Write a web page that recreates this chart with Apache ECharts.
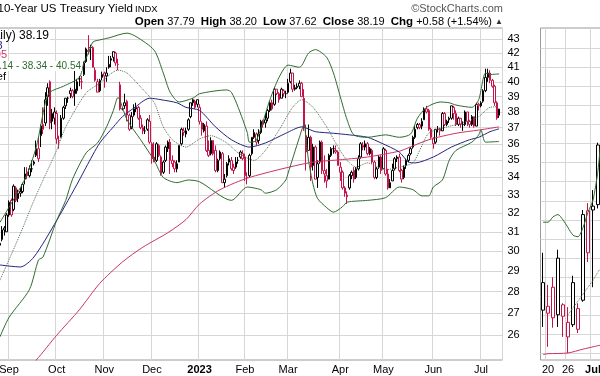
<!DOCTYPE html>
<html>
<head>
<meta charset="utf-8">
<title>10-Year US Treasury Yield</title>
<script src="https://cdn.jsdelivr.net/npm/echarts@6/dist/echarts.min.js"></script>
<style>
  html, body { margin: 0; padding: 0; background: #fff; }
  #chart { width: 600px; height: 376px; }
</style>
</head>
<body>
<div id="chart"></div>
<script>
// ---- daily $TNX (yield x10), main panel ----
const dates = [
  '2022-08-26','2022-08-29','2022-08-30','2022-08-31',
  '2022-09-01','2022-09-02','2022-09-06','2022-09-07','2022-09-08','2022-09-09','2022-09-12','2022-09-13','2022-09-14','2022-09-15','2022-09-16','2022-09-19','2022-09-20','2022-09-21','2022-09-22','2022-09-23','2022-09-26','2022-09-27','2022-09-28','2022-09-29','2022-09-30',
  '2022-10-03','2022-10-04','2022-10-05','2022-10-06','2022-10-07','2022-10-10','2022-10-11','2022-10-12','2022-10-13','2022-10-14','2022-10-17','2022-10-18','2022-10-19','2022-10-20','2022-10-21','2022-10-24','2022-10-25','2022-10-26','2022-10-27','2022-10-28','2022-10-31',
  '2022-11-01','2022-11-02','2022-11-03','2022-11-04','2022-11-07','2022-11-08','2022-11-09','2022-11-10','2022-11-11','2022-11-14','2022-11-15','2022-11-16','2022-11-17','2022-11-18','2022-11-21','2022-11-22','2022-11-23','2022-11-25','2022-11-28','2022-11-29','2022-11-30',
  '2022-12-01','2022-12-02','2022-12-05','2022-12-06','2022-12-07','2022-12-08','2022-12-09','2022-12-12','2022-12-13','2022-12-14','2022-12-15','2022-12-16','2022-12-19','2022-12-20','2022-12-21','2022-12-22','2022-12-23','2022-12-27','2022-12-28','2022-12-29','2022-12-30',
  '2023-01-03','2023-01-04','2023-01-05','2023-01-06','2023-01-09','2023-01-10','2023-01-11','2023-01-12','2023-01-13','2023-01-17','2023-01-18','2023-01-19','2023-01-20','2023-01-23','2023-01-24','2023-01-25','2023-01-26','2023-01-27','2023-01-30','2023-01-31',
  '2023-02-01','2023-02-02','2023-02-03','2023-02-06','2023-02-07','2023-02-08','2023-02-09','2023-02-10','2023-02-13','2023-02-14','2023-02-15','2023-02-16','2023-02-17','2023-02-21','2023-02-22','2023-02-23','2023-02-24','2023-02-27','2023-02-28',
  '2023-03-01','2023-03-02','2023-03-03','2023-03-06','2023-03-07','2023-03-08','2023-03-09','2023-03-10','2023-03-13','2023-03-14','2023-03-15','2023-03-16','2023-03-17','2023-03-20','2023-03-21','2023-03-22','2023-03-23','2023-03-24','2023-03-27','2023-03-28','2023-03-29','2023-03-30','2023-03-31',
  '2023-04-03','2023-04-04','2023-04-05','2023-04-06','2023-04-10','2023-04-11','2023-04-12','2023-04-13','2023-04-14','2023-04-17','2023-04-18','2023-04-19','2023-04-20','2023-04-21','2023-04-24','2023-04-25','2023-04-26','2023-04-27','2023-04-28',
  '2023-05-01','2023-05-02','2023-05-03','2023-05-04','2023-05-05','2023-05-08','2023-05-09','2023-05-10','2023-05-11','2023-05-12','2023-05-15','2023-05-16','2023-05-17','2023-05-18','2023-05-19','2023-05-22','2023-05-23','2023-05-24','2023-05-25','2023-05-26','2023-05-30','2023-05-31',
  '2023-06-01','2023-06-02','2023-06-05','2023-06-06','2023-06-07','2023-06-08','2023-06-09','2023-06-12','2023-06-13','2023-06-14','2023-06-15','2023-06-16','2023-06-20','2023-06-21','2023-06-22','2023-06-23','2023-06-26','2023-06-27','2023-06-28','2023-06-29','2023-06-30',
  '2023-07-03','2023-07-05','2023-07-06','2023-07-07','2023-07-10','2023-07-11','2023-07-12','2023-07-13','2023-07-14'
];
const open = [
  30.3, 30.6, 31.2, 31.0,
  31.9, 32.7, 32.2, 33.4, 32.8, 33.1, 33.2, 33.9, 34.3, 34.1, 34.5, 34.8, 35.3, 35.7, 36.5, 37.2, 37.3, 39.0, 40.0, 37.4, 37.6,
  37.9, 36.2, 36.4, 37.6, 38.4, 38.9, 39.2, 39.4, 39.2, 39.4, 40.2, 40.0, 40.5, 41.4, 42.2, 42.4, 42.4, 40.8, 40.0, 39.4, 40.3,
  40.6, 40.4, 41.0, 41.5, 41.7, 42.0, 41.2, 39.8, 38.2, 38.4, 38.7, 37.8, 37.0, 37.8, 38.2, 38.3, 37.6, 37.0, 36.8, 36.9, 37.4,
  36.0, 35.2, 35.0, 35.9, 35.2, 34.3, 35.0, 35.7, 36.1, 35.0, 34.9, 34.5, 34.9, 36.0, 36.8, 36.6, 36.9, 37.7, 38.6, 38.7, 38.5,
  38.3, 37.3, 36.8, 37.1, 35.6, 35.4, 36.2, 35.6, 34.4, 35.1, 35.4, 33.7, 34.1, 34.9, 35.0, 34.6, 34.6, 35.0, 35.2, 35.4,
  35.2, 34.0, 34.1, 35.4, 36.4, 36.6, 36.2, 36.7, 37.4, 37.3, 37.6, 38.1, 38.6, 38.5, 39.5, 39.2, 38.9, 39.4, 39.2,
  39.3, 40.0, 40.6, 39.5, 39.6, 39.7, 39.9, 38.9, 36.5, 35.6, 36.4, 34.7, 35.8, 34.0, 34.9, 36.1, 34.4, 34.1, 33.9, 35.3, 35.7, 35.6, 35.5,
  34.6, 34.3, 33.4, 33.0, 33.4, 34.1, 34.4, 34.0, 34.5, 35.2, 35.9, 35.8, 36.0, 35.4, 35.6, 34.9, 34.0, 34.6, 35.2,
  34.5, 35.6, 34.2, 33.4, 33.8, 34.5, 35.1, 35.2, 34.4, 34.0, 34.7, 35.0, 35.4, 35.8, 36.4, 37.0, 37.2, 37.1, 37.5, 38.2, 38.1, 36.9,
  36.3, 36.1, 36.9, 36.9, 36.8, 37.9, 37.2, 37.5, 37.6, 38.3, 37.9, 37.2, 37.6, 37.2, 37.2, 38.0, 37.4, 37.2, 37.7, 37.1, 38.5,
  38.4, 38.7, 39.4, 40.3, 40.6, 40.1, 39.7, 38.6, 37.79
];
const high = [
  30.9, 31.3, 31.3, 32.0,
  32.7, 32.8, 33.6, 33.5, 33.3, 33.4, 33.7, 34.6, 34.6, 34.7, 35.0, 35.0, 36.2, 36.4, 37.2, 38.3, 39.3, 39.9, 40.1, 38.2, 38.3,
  38.1, 36.5, 37.8, 38.4, 38.9, 39.0, 39.6, 39.5, 40.8, 40.2, 40.4, 40.4, 41.4, 42.4, 43.3, 42.6, 42.5, 41.0, 40.2, 40.2, 40.7,
  40.7, 41.0, 41.8, 41.8, 42.1, 42.1, 41.6, 40.0, 38.3, 39.2, 38.8, 37.9, 38.0, 38.5, 38.6, 38.4, 37.8, 37.2, 37.1, 37.6, 37.8,
  36.1, 36.1, 36.1, 36.0, 35.3, 35.0, 35.9, 36.2, 36.3, 35.3, 35.0, 35.0, 35.9, 37.0, 37.0, 37.0, 37.6, 38.6, 38.9, 38.8, 38.8,
  38.5, 37.4, 37.3, 37.4, 36.2, 36.4, 36.2, 35.9, 35.1, 35.6, 35.5, 34.2, 34.9, 35.3, 35.2, 34.8, 35.2, 35.2, 35.6, 35.6,
  35.4, 34.3, 35.4, 36.4, 36.9, 36.7, 36.9, 37.5, 37.5, 37.9, 38.2, 38.7, 38.8, 39.6, 39.5, 39.3, 39.6, 39.5, 39.4,
  40.2, 40.9, 40.6, 39.8, 39.9, 40.1, 40.0, 39.5, 37.2, 37.2, 36.5, 36.0, 35.9, 35.0, 36.2, 36.2, 35.3, 34.5, 35.4, 35.8, 35.9, 35.9, 35.6,
  34.9, 34.4, 33.5, 33.2, 34.2, 34.4, 34.6, 34.6, 35.3, 36.1, 36.1, 36.2, 36.1, 35.8, 35.7, 35.0, 34.6, 35.3, 35.3,
  35.8, 35.7, 34.5, 33.9, 34.8, 35.2, 35.3, 35.4, 34.5, 34.7, 35.1, 35.4, 35.8, 36.5, 37.1, 37.3, 37.3, 37.6, 38.3, 38.4, 38.2, 37.0,
  36.4, 36.9, 37.1, 37.0, 38.0, 38.0, 37.5, 37.7, 38.4, 38.4, 38.1, 37.7, 37.6, 37.4, 38.1, 38.0, 37.5, 37.8, 37.7, 38.6, 38.6,
  38.7, 39.5, 40.9, 40.9, 40.8, 40.2, 39.8, 38.7, 38.20
];
const low = [
  30.0, 30.5, 30.8, 31.0,
  31.8, 31.8, 32.1, 32.6, 32.6, 32.9, 33.1, 33.6, 33.9, 34.0, 34.3, 34.7, 35.2, 34.9, 35.8, 36.6, 37.1, 38.4, 36.9, 36.9, 37.2,
  36.0, 35.7, 36.4, 37.5, 38.2, 38.6, 38.9, 38.9, 38.4, 39.2, 39.7, 39.5, 40.4, 41.3, 41.9, 41.5, 41.0, 40.0, 39.3, 39.3, 40.1,
  39.6, 40.0, 40.9, 41.0, 41.4, 41.1, 40.8, 38.1, 38.1, 38.2, 37.4, 36.8, 36.9, 37.7, 38.0, 37.5, 36.9, 36.6, 36.6, 36.8, 36.0,
  34.8, 34.9, 34.9, 35.2, 34.1, 34.2, 34.9, 35.5, 34.2, 34.6, 34.3, 34.3, 34.9, 35.9, 36.5, 36.4, 36.8, 37.6, 38.4, 38.2, 38.3,
  37.2, 36.5, 36.7, 35.5, 35.2, 35.3, 35.3, 34.3, 34.3, 35.0, 33.7, 33.4, 34.0, 34.7, 34.4, 34.2, 34.5, 34.8, 35.1, 35.0,
  33.8, 33.6, 34.0, 35.3, 36.3, 35.9, 36.0, 36.6, 37.0, 37.0, 37.4, 38.0, 38.1, 38.4, 39.1, 38.6, 38.9, 39.0, 38.9,
  39.2, 39.9, 39.3, 39.4, 39.5, 39.5, 39.0, 36.8, 34.4, 35.6, 33.8, 34.4, 33.9, 33.4, 34.8, 34.2, 33.7, 33.4, 33.9, 35.2, 35.4, 35.4, 34.7,
  33.8, 33.3, 32.9, 32.5, 33.3, 33.9, 33.7, 33.9, 34.4, 35.1, 35.6, 35.6, 35.3, 35.3, 34.8, 33.9, 33.9, 34.5, 34.2,
  34.5, 34.1, 33.3, 33.4, 33.8, 34.4, 34.9, 34.3, 33.7, 33.9, 34.5, 34.9, 35.3, 35.7, 36.3, 36.9, 36.9, 36.9, 37.5, 37.9, 36.8, 36.3,
  35.7, 36.0, 36.7, 36.5, 36.8, 37.1, 37.1, 37.3, 37.5, 37.5, 37.1, 37.1, 37.0, 36.8, 37.1, 37.1, 37.0, 37.1, 37.0, 37.1, 38.1,
  38.3, 38.6, 39.3, 40.0, 39.9, 39.6, 38.4, 37.5, 37.62
];
const close = [
  30.4, 31.1, 31.1, 31.9,
  32.6, 31.9, 33.5, 32.7, 33.1, 33.2, 33.6, 34.2, 34.1, 34.5, 34.5, 34.9, 35.7, 35.1, 37.1, 36.9, 38.8, 39.6, 37.3, 37.9, 38.0,
  36.3, 36.2, 37.6, 38.3, 38.9, 38.9, 39.4, 39.0, 39.5, 40.0, 40.2, 40.0, 41.3, 42.3, 42.1, 42.4, 41.0, 40.1, 39.3, 40.1, 40.5,
  40.4, 40.6, 41.2, 41.6, 42.1, 41.3, 41.2, 38.2, 38.2, 38.6, 37.8, 36.9, 37.7, 38.2, 38.3, 37.6, 37.0, 36.8, 36.8, 37.5, 36.1,
  35.1, 34.9, 36.0, 35.3, 34.2, 34.9, 35.8, 36.1, 35.0, 34.8, 34.5, 34.8, 35.9, 36.9, 36.7, 36.8, 37.5, 38.6, 38.8, 38.3, 38.8,
  37.4, 36.9, 37.2, 35.6, 35.3, 36.2, 35.4, 34.4, 35.0, 35.5, 33.7, 33.9, 34.8, 35.1, 34.5, 34.4, 34.9, 35.0, 35.5, 35.1,
  34.1, 34.0, 35.3, 36.4, 36.7, 36.1, 36.6, 37.4, 37.2, 37.5, 38.1, 38.6, 38.2, 39.5, 39.2, 38.8, 39.5, 39.2, 39.2,
  39.9, 40.6, 39.5, 39.6, 39.7, 39.9, 39.0, 37.0, 35.5, 36.4, 34.6, 35.8, 33.9, 34.8, 36.1, 34.4, 34.2, 33.8, 35.3, 35.7, 35.7, 35.5, 34.7,
  34.3, 33.4, 33.1, 32.9, 34.1, 34.3, 33.9, 34.5, 35.1, 36.0, 35.8, 36.0, 35.4, 35.7, 34.9, 34.0, 34.5, 35.2, 34.4,
  35.7, 34.2, 33.4, 33.7, 34.4, 35.1, 35.2, 34.4, 33.9, 34.6, 35.0, 35.3, 35.7, 36.4, 36.9, 37.2, 37.0, 37.4, 38.2, 38.0, 36.9, 36.4,
  36.0, 36.9, 36.9, 36.8, 37.9, 37.2, 37.4, 37.6, 38.4, 37.9, 37.2, 37.6, 37.2, 37.2, 38.0, 37.4, 37.2, 37.7, 37.1, 38.5, 38.4,
  38.6, 39.4, 40.3, 40.6, 40.1, 39.7, 38.6, 37.61, 38.19
];

// overlays: [date, value]
const upperBand = [
  ['2022-08-26',31.5],['2022-09-13',33.9],['2022-09-20',35.8],['2022-09-26',38.6],['2022-09-28',39.3],['2022-10-06',39.7],
  ['2022-10-17',40.3],['2022-10-19',41.3],['2022-10-21',42.0],['2022-10-25',42.8],['2022-10-28',42.95],['2022-11-03',43.1],
  ['2022-11-15',43.45],['2022-11-21',43.2],['2022-12-02',42.2],['2022-12-08',40.6],['2022-12-13',39.3],['2022-12-19',38.65],
  ['2022-12-28',38.9],['2023-01-03',39.2],['2023-01-20',39.45],['2023-01-24',39.3],['2023-01-27',38.3],['2023-02-02',36.7],
  ['2023-02-03',36.1],['2023-02-08',36.2],['2023-02-16',38.8],['2023-02-23',40.3],['2023-03-01',41.15],['2023-03-08',41.0],
  ['2023-03-14',42.0],['2023-03-17',42.25],['2023-03-24',41.7],['2023-03-29',40.6],['2023-04-03',39.0],['2023-04-06',37.5],
  ['2023-04-12',36.55],['2023-04-20',36.4],['2023-05-02',36.55],['2023-05-10',36.4],['2023-05-17',36.6],['2023-05-22',37.6],
  ['2023-05-26',38.3],['2023-06-06',38.65],['2023-06-12',38.6],['2023-06-15',38.45],['2023-06-27',38.3],['2023-06-30',38.8],
  ['2023-07-06',40.6],['2023-07-10',40.5],['2023-07-14',40.54]
];
const midBand = [
  ['2022-08-26',28.55],['2022-09-09',30.9],['2022-09-19',32.7],['2022-09-23',33.85],['2022-10-03',35.6],['2022-10-07',37.05],
  ['2022-10-20',39.25],['2022-10-28',39.9],['2022-11-09',40.8],['2022-11-15',40.6],['2022-11-23',39.65],['2022-12-02',38.6],
  ['2022-12-08',37.05],['2022-12-14',36.25],['2022-12-22',35.8],['2023-01-03',36.3],['2023-01-10',36.5],['2023-01-20',36.05],
  ['2023-01-27',35.45],['2023-02-07',35.0],['2023-02-14',35.6],['2023-02-23',36.85],['2023-03-03',38.3],['2023-03-09',38.8],
  ['2023-03-16',38.3],['2023-03-24',37.05],['2023-03-31',35.8],['2023-04-06',35.0],['2023-04-13',34.6],['2023-04-20',34.85],
  ['2023-05-02',34.45],['2023-05-10',34.6],['2023-05-18',34.85],['2023-05-23',35.6],['2023-05-30',36.65],['2023-06-09',37.05],
  ['2023-06-21',37.3],['2023-06-30',37.7],['2023-07-10',38.3],['2023-07-14',38.34]
];
const lowerBand = [
  ['2022-08-26',25.93],['2022-09-01',26.8],['2022-09-15',28.1],['2022-09-21',29.55],['2022-09-23',29.7],['2022-10-03',31.6],
  ['2022-10-07',32.7],['2022-10-12',33.9],['2022-10-20',35.45],['2022-10-27',36.05],['2022-11-02',37.05],['2022-11-07',38.1],
  ['2022-11-09',38.95],['2022-11-15',37.5],['2022-11-23',36.25],['2022-12-02',35.0],['2022-12-08',34.0],['2022-12-16',33.7],
  ['2022-12-23',33.85],['2023-01-03',33.75],['2023-01-24',32.7],['2023-02-02',33.45],['2023-02-10',33.3],['2023-02-14',33.1],
  ['2023-02-22',33.3],['2023-02-28',33.85],['2023-03-01',34.25],['2023-03-08',36.4],['2023-03-10',37.2],['2023-03-13',36.2],
  ['2023-03-14',35.0],['2023-03-16',33.6],['2023-03-20',32.8],['2023-03-24',32.3],['2023-03-29',32.05],['2023-04-04',32.35],
  ['2023-04-06',32.6],['2023-04-20',32.7],['2023-05-02',32.85],['2023-05-10',33.45],['2023-05-18',33.3],['2023-05-24',32.95],
  ['2023-05-30',32.95],['2023-06-01',33.45],['2023-06-07',33.85],['2023-06-12',35.0],['2023-06-15',35.6],['2023-06-27',36.1],
  ['2023-06-30',36.55],['2023-07-03',36.85],['2023-07-06',36.1],['2023-07-14',36.14]
];
const ma50 = [
  ['2022-08-26',29.3],['2022-09-09',29.2],['2022-09-19',29.7],['2022-10-03',31.6],['2022-10-17',33.85],['2022-10-20',34.6],
  ['2022-10-28',36.05],['2022-11-07',37.05],['2022-11-11',37.7],['2022-11-18',38.25],['2022-11-30',38.9],['2022-12-07',38.8],
  ['2022-12-16',38.6],['2022-12-22',38.3],['2023-01-03',38.1],['2023-01-12',37.05],['2023-01-24',36.25],['2023-02-03',35.8],
  ['2023-02-14',36.05],['2023-02-28',36.65],['2023-03-09',37.05],['2023-03-17',36.75],['2023-03-29',36.65],['2023-04-10',36.55],
  ['2023-04-20',36.4],['2023-04-28',36.05],['2023-05-10',35.5],['2023-05-16',34.9],['2023-05-19',34.85],['2023-06-01',35.2],
  ['2023-06-13',35.8],['2023-06-26',36.25],['2023-06-30',36.4],['2023-07-10',36.75],['2023-07-14',36.93]
];
const ma200 = [
  ['2022-09-09',24.3],['2022-09-20',24.93],['2022-10-03',26.0],['2022-10-17',27.15],['2022-10-28',28.4],['2022-11-11',29.45],
  ['2022-11-25',30.2],['2022-12-12',30.95],['2022-12-22',31.65],['2023-01-03',32.5],['2023-01-17',33.3],['2023-02-03',34.0],
  ['2023-03-14',34.85],['2023-04-04',35.05],['2023-04-20',35.2],['2023-05-10',35.55],['2023-05-15',35.7],['2023-05-30',36.25],
  ['2023-06-15',36.65],['2023-06-30',36.85],['2023-07-14',37.05]
];
const yTicks = [26, 27, 28, 29, 30, 31, 32, 33, 34, 35, 36, 37, 38, 39, 40, 41, 42, 43];
const monthNames = ['Jan','Feb','Mar','Apr','May','Jun','Jul','Aug','Sep','Oct','Nov','Dec'];

// ---- right-hand close-up panel ----
const rDates  = ['2023-06-16','2023-06-20','2023-06-21','2023-06-22','2023-06-23','2023-06-26','2023-06-27','2023-06-28','2023-06-29','2023-06-30','2023-07-03','2023-07-05','2023-07-06'];
const rOpen   = [37.07, 37.12, 37.37, 37.01, 36.99, 36.72, 36.88, 37.09, 37.20, 38.37, 38.43, 38.45, 40.17];
const rHigh   = [37.82, 37.40, 37.50, 37.86, 37.16, 37.11, 37.52, 37.16, 38.38, 38.47, 38.64, 39.26, 40.30];
const rLow    = [36.85, 36.59, 36.84, 36.85, 36.72, 36.51, 36.85, 36.77, 37.18, 37.70, 37.37, 38.40, 39.50];
const rClose  = [37.43, 37.03, 36.97, 37.75, 37.14, 36.91, 37.43, 36.82, 38.32, 37.82, 38.38, 39.23, 39.69];
const rUpper  = [['2023-06-16',38.22],['2023-06-20',38.22],['2023-06-21',38.29],['2023-06-22',38.32],['2023-06-23',38.25],['2023-06-26',38.15],['2023-06-27',38.05],['2023-06-28',38.03],['2023-06-29',38.15],['2023-06-30',38.35],['2023-07-03',38.51],['2023-07-05',38.9],['2023-07-06',39.6]];
const rMid    = [['2023-06-26',37.01],['2023-06-27',37.10],['2023-06-28',37.19],['2023-06-29',37.28],['2023-06-30',37.37],['2023-07-03',37.46],['2023-07-05',37.57],['2023-07-06',37.66]];
const rLong   = [['2023-06-16',36.49],['2023-06-20',36.50],['2023-06-26',36.51],['2023-06-29',36.56],['2023-07-03',36.59],['2023-07-06',36.62]];
const rTicks  = [36.5, 36.75, 37, 37.25, 37.5, 37.75, 38, 38.25, 38.5, 38.75, 39, 39.25, 39.5, 39.75, 40, 40.25, 40.5];
const rTickDates = ['2023-06-20', '2023-06-26', '2023-07-03'];

const FONT = '"Liberation Sans", Arial, sans-serif';
const RED = '#c4144a';
const BLACK = '#000';
const GRID = '#d6d6d6';
const BB_GREEN = '#2f6a2f';
const MID_GREEN = '#4f6f4f';

// StockCharts colouring: black/red vs previous close, hollow when close > open
function candles(o, h, l, c) {
  return o.map(function (v, i) {
    const col = i > 0 && c[i] < c[i - 1] ? RED : BLACK;
    return {
      value: [o[i], c[i], l[i], h[i]],
      itemStyle: { color: '#fff', color0: col, borderColor: col, borderColor0: col }
    };
  });
}

function monthStart(i, v) {
  return i > 0 && v !== '' && v.slice(5, 7) !== dates[i - 1].slice(5, 7);
}

const last = close.length - 1;
const chg = close[last] - close[last - 1];
const pct = chg / close[last - 1] * 100;
const ohlcText = '{b|Open} ' + open[last].toFixed(2) + '  {b|High} ' + high[last].toFixed(2) +
  '  {b|Low} ' + low[last].toFixed(2) + '  {b|Close} ' + close[last].toFixed(2) +
  '  {b|Chg} +' + chg.toFixed(2) + ' (+' + pct.toFixed(2) + '%) {t|▲}';

function lineSeries(data, color, type, xi) {
  return {
    type: 'line', xAxisIndex: xi, yAxisIndex: xi, data: data,
    symbol: 'none', smooth: 0.25, z: 4, silent: true,
    lineStyle: { color: color, width: 1, type: type }
  };
}

function legendText(text, right, y, color, size) {
  return {
    type: 'text', z: 100,
    style: {
      text: text, x: right, y: y, align: 'right', verticalAlign: 'middle',
      fontSize: size, fontFamily: FONT, fill: color, backgroundColor: '#fff', padding: [0, 1]
    }
  };
}

const chart = echarts.init(document.getElementById('chart'));
const option = {
  animation: false,
  backgroundColor: '#fff',
  textStyle: { fontFamily: FONT },
  grid: [
    { left: -1.2, top: 28, width: 503.7, height: 332, show: true, backgroundColor: '#fff',
      borderColor: '#9a9a9a', borderWidth: 1, outerBoundsMode: 'none' },
    { left: 540.5, top: 28, width: 65, height: 332, show: true, backgroundColor: '#fff',
      borderColor: '#9a9a9a', borderWidth: 1, outerBoundsMode: 'none' }
  ],
  xAxis: [
    {
      type: 'category', gridIndex: 0, data: dates.concat(['']), boundaryGap: true,
      axisLine: { show: false }, axisTick: { show: false },
      axisLabel: {
        interval: monthStart, margin: 4, fontSize: 11, color: '#000',
        formatter: function (v) {
          const m = +v.slice(5, 7);
          return m === 1 ? '{yr|' + v.slice(0, 4) + '}' : monthNames[m - 1];
        },
        rich: { yr: { fontWeight: 'bold', fontSize: 11, color: '#000' } }
      },
      splitLine: { show: true, interval: monthStart, lineStyle: { color: GRID } }
    },
    {
      type: 'category', gridIndex: 1, data: rDates, boundaryGap: true,
      axisLine: { show: false }, axisTick: { show: false },
      axisLabel: {
        interval: function (i, v) { return rTickDates.indexOf(v) >= 0; },
        margin: 4, fontSize: 11, color: '#000',
        formatter: function (v) {
          return v.slice(8) === '03' && v.slice(5, 7) === '07' ? '{m|Jul}' : String(+v.slice(8));
        },
        rich: { m: { fontWeight: 'bold', fontSize: 11, color: '#000' } }
      },
      splitLine: { show: true, interval: function (i, v) { return rTickDates.indexOf(v) >= 0; }, lineStyle: { color: GRID } }
    }
  ],
  yAxis: [
    {
      type: 'log', logBase: 10, gridIndex: 0, position: 'right', min: 24.93, max: 43.83,
      axisLine: { show: false }, axisTick: { show: false, customValues: yTicks },
      axisLabel: { customValues: yTicks, margin: 5, fontSize: 11, color: '#000' },
      splitLine: { lineStyle: { color: GRID } }
    },
    {
      type: 'value', gridIndex: 1, position: 'right', min: 36.418, max: 40.76,
      axisLine: { show: false }, axisTick: { show: false, customValues: rTicks },
      axisLabel: { show: false, customValues: rTicks },
      splitLine: { lineStyle: { color: GRID } }
    }
  ],
  series: [
    { type: 'candlestick', xAxisIndex: 0, yAxisIndex: 0, barWidth: 2, z: 3, silent: true,
      itemStyle: { borderWidth: 1 }, data: candles(open, high, low, close) },
    lineSeries(ma200, '#cc3366', 'solid', 0),
    lineSeries(ma50, '#24247f', 'solid', 0),
    lineSeries(upperBand, BB_GREEN, 'solid', 0),
    lineSeries(lowerBand, BB_GREEN, 'solid', 0),
    lineSeries(midBand, MID_GREEN, 'dotted', 0),
    { type: 'candlestick', xAxisIndex: 1, yAxisIndex: 1, barWidth: 3.5, z: 3, silent: true,
      itemStyle: { borderWidth: 1 }, data: candles(rOpen, rHigh, rLow, rClose) },
    lineSeries(rLong, '#cc3366', 'solid', 1),
    lineSeries(rUpper, BB_GREEN, 'solid', 1),
    lineSeries(rMid, MID_GREEN, 'dotted', 1)
  ],
  graphic: [
    { type: 'text', z: 100, style: { text: '10-Year US Treasury Yield', x: -2.5, y: 9, verticalAlign: 'middle',
      fontSize: 11.5, fontFamily: FONT, fill: '#000' } },
    { type: 'text', z: 100, style: { text: 'INDX', x: 135, y: 9.5, verticalAlign: 'middle',
      fontSize: 9.5, fontFamily: FONT, fill: '#000' } },
    { type: 'text', z: 100, style: { text: '©StockCharts.com', x: 503, y: 9, align: 'right', verticalAlign: 'middle',
      fontSize: 11, fontFamily: FONT, fill: '#555' } },
    { type: 'text', z: 100, style: { text: ohlcText, x: 503, y: 22, align: 'right', verticalAlign: 'middle',
      fontSize: 11, fontFamily: FONT, fill: '#000',
      rich: { b: { fontWeight: 'bold', fontSize: 11.5, fontFamily: FONT }, t: { fontSize: 8, fill: '#333' } } } },
    legendText('$TNX (Daily) ' + close[last].toFixed(2), 50, 36, '#000', 12),
    legendText('MA(50) ' + ma50[ma50.length - 1][1].toFixed(2), 3.5, 45.5, '#24247f', 11),
    legendText('MA(200) ' + ma200[ma200.length - 1][1].toFixed(2), 8, 55, '#cc3366', 11),
    legendText('BB(20,2.0) ' + lowerBand[lowerBand.length - 1][1].toFixed(2) + ' - ' +
      midBand[midBand.length - 1][1].toFixed(2) + ' - ' + upperBand[upperBand.length - 1][1].toFixed(2), 82, 66, BB_GREEN, 10),
    legendText('Volume undef', 7, 76.5, '#000', 11)
  ]
};
chart.setOption(option);
</script>
</body>
</html>
